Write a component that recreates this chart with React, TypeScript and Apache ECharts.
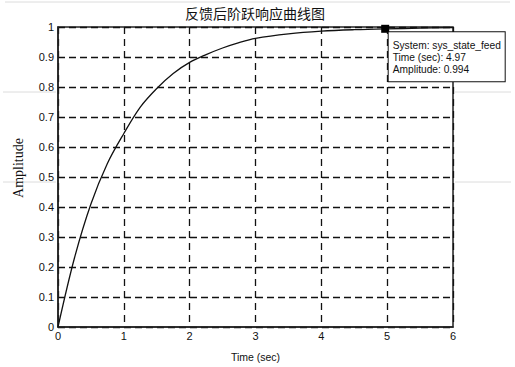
import React, { useEffect, useRef } from "react";
import * as echarts from "echarts";

const titleText = "反馈后阶跃响应曲线图";
const xName = "Time (sec)";
const yName = "Amplitude";
const timeValues = [0, 0.25, 0.5, 0.75, 1.0, 1.25, 1.5, 1.75, 2.0, 2.25, 2.5, 2.75, 3.0, 3.5, 4.0, 4.5, 5.0, 5.5, 6.0];
const ampValues = [0, 0.23, 0.41, 0.545, 0.645, 0.733, 0.795, 0.845, 0.882, 0.908, 0.93, 0.948, 0.962, 0.977, 0.986, 0.991, 0.994, 0.996, 0.998];
const systemName = "sys_state_feed";
const markerTime = 4.97;
const markerAmp = 0.994;

export default function App() {
  const ref = useRef<HTMLDivElement>(null);
  useEffect(() => {
    if (!ref.current) return;
    const chart = echarts.init(ref.current, null, { renderer: "svg" });
    const data = timeValues.map((t, i) => [t, ampValues[i]]);
    const grayLine = { stroke: "#dcdcdc", lineWidth: 1 };
    chart.setOption({
      animation: false,
      backgroundColor: "#fff",
      title: {
        text: titleText,
        left: 250,
        textAlign: "center",
        top: 1,
        textStyle: { fontFamily: "Noto Sans CJK SC", fontSize: 14, fontWeight: "normal", color: "#111" },
      },
      grid: {
        left: 58, top: 27, right: 62, bottom: 39,
        show: true, borderColor: "#222", borderWidth: 1.5, backgroundColor: "#fff",
      },
      xAxis: {
        type: "value", min: 0, max: 6, interval: 1,
        name: xName, nameLocation: "middle", nameGap: 24,
        nameTextStyle: { fontFamily: "Liberation Sans", fontSize: 10.5, color: "#111" },
        axisLine: { show: true, lineStyle: { color: "#222", width: 1.5 } },
        axisTick: { show: false },
        axisLabel: { fontFamily: "Liberation Sans", fontSize: 11, color: "#111", margin: 3 },
        splitLine: { show: true, lineStyle: { color: "#111", width: 1.3, type: [7, 5] } },
      },
      yAxis: {
        type: "value", min: 0, max: 1, interval: 0.1,
        axisLine: { show: true, lineStyle: { color: "#222", width: 1.5 } },
        axisTick: { show: false },
        axisLabel: { fontFamily: "Liberation Sans", fontSize: 11, color: "#111", margin: 4 },
        splitLine: { show: true, lineStyle: { color: "#111", width: 1.3, type: [7, 4] } },
      },
      graphic: [
        { type: "line", shape: { x1: 5, y1: 2, x2: 510, y2: 2 }, style: grayLine, silent: true },
        { type: "line", shape: { x1: 3, y1: 92, x2: 56, y2: 92 }, style: grayLine, silent: true },
        { type: "line", shape: { x1: 455, y1: 92, x2: 511, y2: 92 }, style: grayLine, silent: true },
        { type: "line", shape: { x1: 3, y1: 182, x2: 56, y2: 182 }, style: grayLine, silent: true },
        { type: "line", shape: { x1: 455, y1: 182, x2: 511, y2: 182 }, style: grayLine, silent: true },
        {
          type: "text", x: 18, y: 168, rotation: Math.PI / 2,
          style: {
            text: yName, fontFamily: "Liberation Serif", fontSize: 14, fill: "#111",
            align: "center", verticalAlign: "middle",
          },
        },
      ],
      series: [
        {
          type: "line",
          data,
          smooth: 0.35,
          showSymbol: false,
          lineStyle: { color: "#111", width: 1.3 },
          markPoint: {
            symbol: "rect",
            symbolSize: 8,
            itemStyle: { color: "#000" },
            data: [
              {
                coord: [markerTime, markerAmp],
                label: {
                  show: true,
                  position: [7.5, 7.5],
                  align: "left",
                  verticalAlign: "top",
                  formatter: `System: ${systemName}\nTime (sec): ${markerTime}\nAmplitude: ${markerAmp}`,
                  fontFamily: "Liberation Sans",
                  fontSize: 10.2,
                  lineHeight: 12,
                  color: "#111",
                  backgroundColor: "#fff",
                  borderColor: "#111",
                  borderWidth: 1,
                  padding: [7, 0, 6, 4],
                  width: 112,
                  overflow: "truncate",
                  ellipsis: "",
                },
              },
            ],
          },
        },
      ],
    });
    return () => chart.dispose();
  }, []);
  return <div ref={ref} style={{ position: "fixed", left: 0, top: 0, width: 515, height: 367 }} />;
}
